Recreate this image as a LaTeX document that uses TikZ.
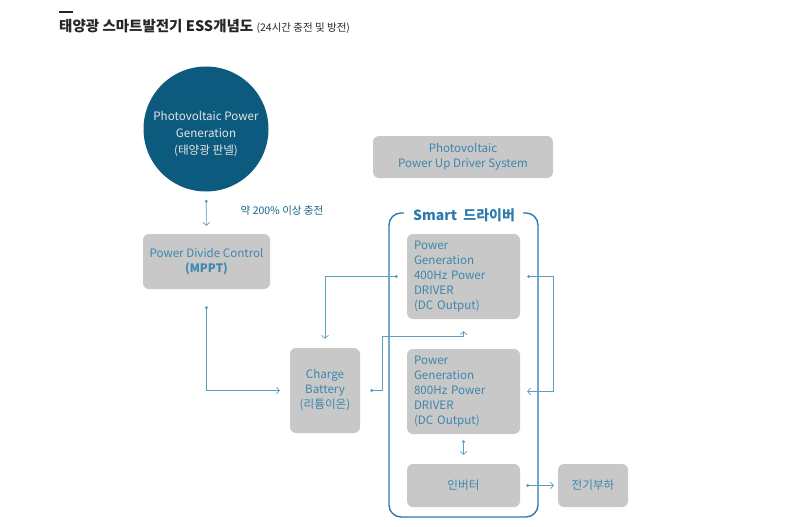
\documentclass[tikz,border=0pt]{standalone}
\usepackage{fontspec}
\setmainfont{Noto Sans CJK KR}
\usetikzlibrary{arrows.meta}

\definecolor{pvblue}{HTML}{0C5A7E}
\definecolor{boxgray}{HTML}{C8C8C8}
\definecolor{txtblue}{HTML}{3D86AD}
\definecolor{lineblue}{HTML}{5C9DC3}
\definecolor{framblue}{HTML}{2C7BA9}

\tikzset{
  graybox/.style={draw=none,fill=boxgray,rounded corners=6pt,text=txtblue,
    font=\fontsize{11.6}{15}\selectfont,align=center,inner sep=0pt},
  drvbox/.style={graybox,minimum width=113pt,minimum height=85pt,
    text width=99pt,align=left},
  link/.style={draw=lineblue,line width=0.7pt,
    -{Straight Barb[length=3pt,width=7pt]}},
  dotlink/.style={link,{Circle[length=3pt]}-{Straight Barb[length=3pt,width=7pt]}},
}

\begin{document}
\begin{tikzpicture}[x=1pt,y=-1pt]
		\useasboundingbox (0,0) rectangle (800,527);
		% title
		\draw[line width=2pt,color=black!85] (59,12) -- (73,12);
		\node[anchor=base west,inner sep=0pt,text=black!85] (title) at (59,32)
			{\fontsize{14.5}{16}\selectfont\bfseries 태양광 스마트발전기 ESS개념도\ \fontsize{10.5}{11}\selectfont\mdseries (24시간 충전 및 방전)};
		
		\node[circle,fill=pvblue,minimum size=125pt,inner sep=0pt,text=white!90!black,
			font=\fontsize{11.6}{17}\selectfont,align=center] (pv) at (206,129)
			{\rule{0pt}{20pt}Photovoltaic Power\\Generation\\(태양광 판넬)};
		\node[graybox,minimum width=180pt,minimum height=42pt] (pvup) at (463,157)
			{Photovoltaic\\Power Up Driver System};
		\node[graybox,minimum width=127pt,minimum height=55pt] (mppt) at (206.5,261.5)
			{Power Divide Control\\\bfseries (MPPT)};
		\node[text=pvblue!80!txtblue,font=\fontsize{10.5}{12}\selectfont] (rate) at (282,211) {약 200\% 이상 충전};
		\node[graybox,minimum width=70pt,minimum height=85pt] (batt) at (325,390.5)
			{Charge\\Battery\\(리튬이온)};
		
		% smart driver frame
		\draw[framblue,line width=1.4pt,rounded corners=12pt]
			(404,213) -- (389,213) -- (389,517) -- (538,517) -- (538,213) -- (523,213);
		\node[text=framblue,font=\fontsize{14}{16}\selectfont\bfseries] (smart) at (464,215) {Smart\ \ 드라이버};
		
		\node[drvbox] (drv4) at (463.5,276.5) {Power\\Generation\\400Hz Power\\DRIVER\\(DC Output)};
		\node[drvbox] (drv8) at (463.5,391.5) {Power\\Generation\\800Hz Power\\DRIVER\\(DC Output)};
		\node[graybox,minimum width=113pt,minimum height=43pt] (inv) at (463.5,485.5) {인버터};
		\node[graybox,minimum width=70pt,minimum height=43pt] (load) at (593,485.5) {전기부하};
		
		\draw[dotlink,shorten <=8pt,shorten >=8pt] (pv) -- (mppt);
		\draw[dotlink,shorten <=17pt,shorten >=10pt] (mppt.south) |- (batt.west);
		\draw[dotlink,shorten <=9pt,shorten >=9pt] (drv4.west) -| (batt.north);
		\draw[dotlink,shorten <=10pt,shorten >=12pt] (batt.east) -- ++(22,0) |- ([yshift=-17pt]drv4.south) -- (drv4.south);
		\draw[dotlink,shorten <=7pt,shorten >=7pt] (drv4.east) -- ++(33,0) |- (drv8.east);
		\draw[dotlink,shorten <=6pt,shorten >=9pt] (drv8) -- (inv);
		\draw[dotlink,shorten <=6pt,shorten >=4pt] (inv) -- (load);
		\end{tikzpicture}
\end{document}
